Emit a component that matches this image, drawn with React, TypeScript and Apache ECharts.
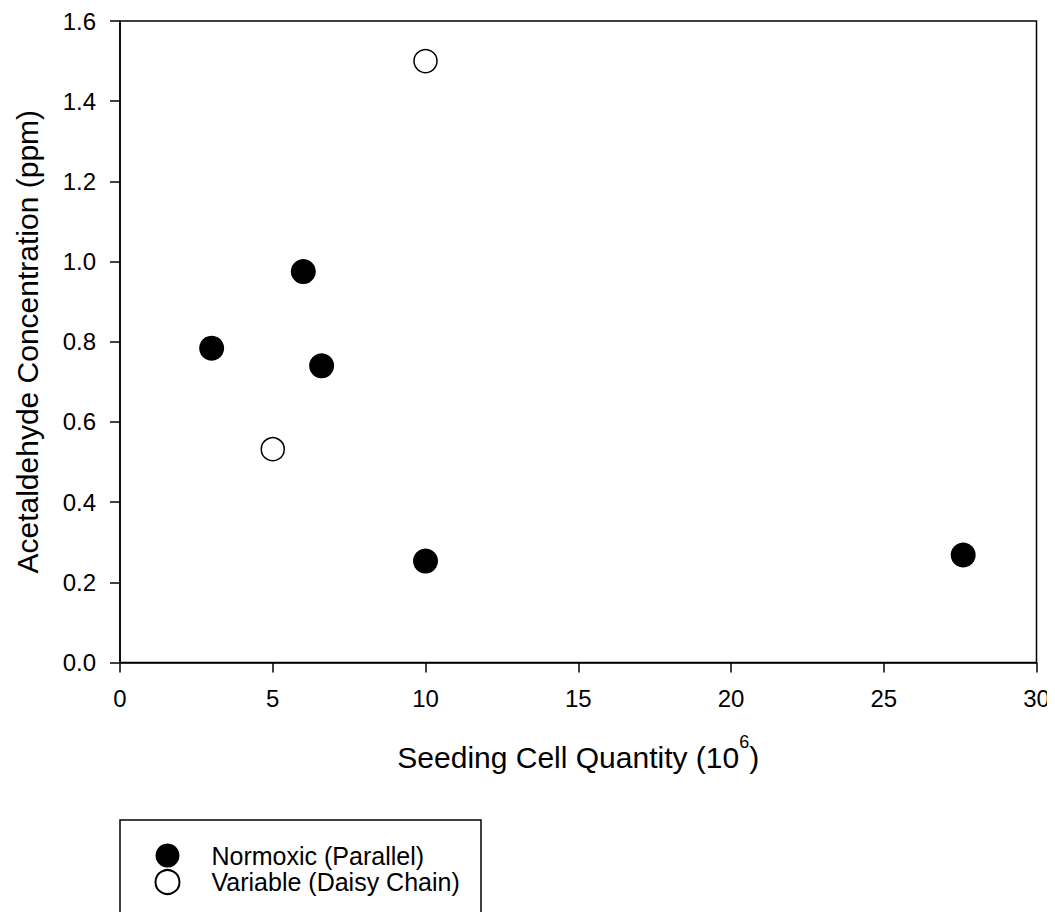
import React, { useEffect, useRef } from "react";
import * as echarts from "echarts";

const seriesNames = ["Normoxic (Parallel)", "Variable (Daisy Chain)"];
const normoxic: [number, number][] = [
  [3.0, 0.784],
  [6.0, 0.975],
  [6.6, 0.74],
  [10.0, 0.253],
  [27.6, 0.268],
];
const variable: [number, number][] = [
  [10.0, 1.5],
  [5.0, 0.532],
];
const xTitle = "Seeding Cell Quantity (10";
const xTitleSup = "6";
const yTitle = "Acetaldehyde Concentration (ppm)";

const FONT = "'Liberation Sans', Arial, sans-serif";

export default function App() {
  const ref = useRef<HTMLDivElement>(null);
  useEffect(() => {
    if (!ref.current) return;
    const chart = echarts.init(ref.current, undefined, { renderer: "svg" });
    const axisCommon = {
      axisLine: { show: true, onZero: false, lineStyle: { color: "#000", width: 1.5 } },
      axisTick: { show: true, inside: false, length: 10, lineStyle: { color: "#000", width: 1.5 } },
      splitLine: { show: false },
    };
    chart.setOption({
      animation: false,
      backgroundColor: "#fff",
      textStyle: { fontFamily: FONT, color: "#000" },
      grid: {
        left: 120,
        right: 18.5,
        top: 21,
        bottom: 257.5,
        show: true,
        borderColor: "#000",
        borderWidth: 1.5,
        containLabel: false,
      },
      xAxis: {
        type: "value",
        min: 0,
        max: 30,
        interval: 5,
        ...axisCommon,
        axisLabel: { color: "#000", fontSize: 24, margin: 24, fontFamily: FONT },
        name: `{a|${xTitle}}{s|${xTitleSup}}{a|)}`,
        nameLocation: "middle",
        nameGap: 70,
        nameTextStyle: {
          rich: {
            a: { fontSize: 30, lineHeight: 40, color: "#000", fontFamily: FONT, verticalAlign: "bottom" },
            s: { fontSize: 18, color: "#000", fontFamily: FONT, verticalAlign: "top" },
          },
        },
      },
      yAxis: {
        type: "value",
        min: 0,
        max: 1.6,
        interval: 0.2,
        ...axisCommon,
        axisLabel: {
          color: "#000",
          fontSize: 24,
          margin: 24,
          fontFamily: FONT,
          formatter: (v: number) => v.toFixed(1),
        },
        name: yTitle,
        nameLocation: "middle",
        nameGap: 78,
        nameTextStyle: { fontSize: 30, color: "#000", fontFamily: FONT },
      },
      legend: {
        orient: "vertical",
        left: 154.5,
        top: 843,
        padding: 0,
        itemWidth: 24,
        itemHeight: 24,
        itemGap: 1,
        icon: "circle",
        data: seriesNames,
        textStyle: { fontSize: 25, color: "#000", fontFamily: FONT, padding: [0, 0, 0, 27] },
      },
      graphic: [
        {
          type: "rect",
          shape: { x: 120, y: 820, width: 361, height: 130 },
          style: { fill: "none", stroke: "#000", lineWidth: 1.5 },
          silent: true,
        },
      ],
      series: [
        {
          name: seriesNames[0],
          type: "scatter",
          symbol: "circle",
          symbolSize: 25,
          data: normoxic,
          itemStyle: { color: "#000", borderColor: "#000", borderWidth: 0, opacity: 1 },
        },
        {
          name: seriesNames[1],
          type: "scatter",
          symbol: "circle",
          symbolSize: 23,
          data: variable,
          itemStyle: { color: "#fff", borderColor: "#000", borderWidth: 1.5, opacity: 1 },
        },
      ],
    });
    return () => chart.dispose();
  }, []);
  return <div ref={ref} style={{ width: 1055, height: 920, margin: -8 }} />;
}
